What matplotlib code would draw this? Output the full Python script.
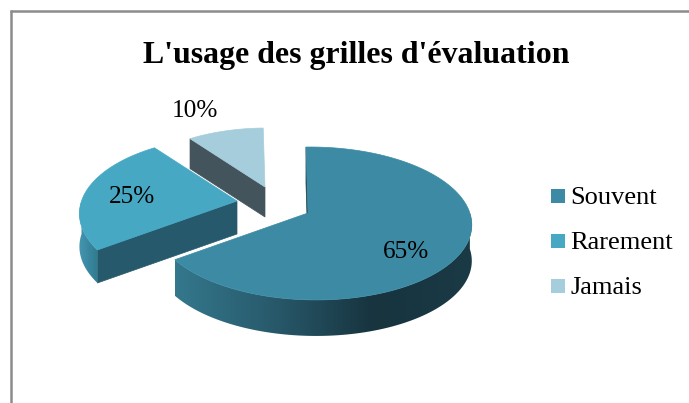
#Camembert 3D "éclaté" dessiné à la main (matplotlib n'a pas de pie 3D)
import numpy as np
import matplotlib
matplotlib.use('Agg')
import matplotlib.pyplot as plt
from matplotlib.colors import LinearSegmentedColormap
from matplotlib.patches import Polygon, Rectangle

#Données
categories = ['Souvent', 'Rarement', 'Jamais']
valeurs = [65, 25, 10]
etiquettes = ['65%', '25%', '10%']
titre = "L'usage des grilles d'évaluation"

#Style de chaque part
couleurs = ['#3c8aa3', '#47a8c4', '#a6cddc']
couleurs_mur = ['#1d4452', '#25596b', '#44545c']
degrades = [['#34788d', '#28596b', '#17343f', '#1a3a45'], ['#4596b0', '#2f7a90'], ['#8fb4c2', '#8fb4c2']]
sommets = [(308, 213), (237, 201), (265, 187)]
rayons = [1.0, 1.02, 0.92]
epaisseurs = [36, 33, 30]
perspectives = [0.137, 0.18, 0.17]
pos_etiquettes = [(406, 252), (132, 197), (195, 111)]

#Forme de l'ellipse
A, B, S, M = 157, 75, -2.3, -0.03

plt.rcParams['font.family'] = ['Liberation Serif', 'DejaVu Serif']

fig = plt.figure(figsize=(6.89, 4.03), dpi=100)
ax = fig.add_axes([0, 0, 1, 1])


def projeter(angle, sommet, rayon, k):
    #angle en degrés, 0 = haut, sens horaire
    t = np.radians(angle)
    u, v = np.sin(t), np.cos(t)
    d = 1 + k * v + M * u
    return sommet[0] + rayon * (A * u + S * v) / d, sommet[1] - B * rayon * v / d


#Angles cumulés à partir des valeurs
fins = np.cumsum(valeurs) / np.sum(valeurs) * 360
debuts = np.concatenate([[0], fins[:-1]])

for i in range(len(valeurs)):
    z = 2 + i * 0.1
    sommet, rayon, ep, k = sommets[i], rayons[i], epaisseurs[i], perspectives[i]
    theta = np.linspace(debuts[i], fins[i], 120)
    xs, ys = projeter(theta, sommet, rayon, k)

    #mur intérieur (premier bord de la part)
    x0, y0 = projeter(debuts[i], sommet, rayon, k)
    mur = [(sommet[0], sommet[1]), (x0, y0), (x0, y0 + ep), (sommet[0], sommet[1] + ep)]
    ax.add_patch(Polygon(mur, closed=True, fc=couleurs_mur[i], ec=couleurs_mur[i], lw=0.5, zorder=z))

    #bord extérieur visible (moitié avant) avec dégradé
    a1, a2 = max(debuts[i], 90), min(fins[i], 270)
    if a2 > a1:
        t2 = np.linspace(a1, a2, 120)
        xb, yb = projeter(t2, sommet, rayon, k)
        pts = np.column_stack([np.r_[xb, xb[::-1]], np.r_[yb, yb[::-1] + ep]])
        cmap = LinearSegmentedColormap.from_list('d', degrades[i])
        im = ax.imshow(np.linspace(0, 1, 256)[None, :], cmap=cmap, aspect='auto', zorder=z,
                       extent=[xb.min(), xb.max(), pts[:, 1].max(), pts[:, 1].min()])
        im.set_clip_path(Polygon(pts, closed=True, transform=ax.transData))

    #dessus de la part
    dessus = np.column_stack([np.r_[sommet[0], xs], np.r_[sommet[1], ys]])
    ax.add_patch(Polygon(dessus, closed=True, fc=couleurs[i], ec=couleurs[i], lw=0.5, zorder=z + 0.05))

    ax.text(pos_etiquettes[i][0], pos_etiquettes[i][1], etiquettes[i], fontsize=18.2, color='black',
            ha='center', va='center', zorder=5)

#Titre
ax.text(356, 55.5, titre, fontsize=22.95, fontweight='bold', color='black', ha='center', va='center')

#Légende
y_legende = [198, 243, 288]
for nom, coul, y in zip(categories, couleurs, y_legende):
    ax.add_patch(Rectangle((551, y - 9), 14, 14, fc=coul, ec='none'))
    ax.text(570.5, y, nom, fontsize=19, color='black', ha='left', va='center')

#Cadre gris (haut et gauche seulement)
ax.plot([11, 11], [10, 403], color='#8c8c8c', lw=1.8, solid_capstyle='butt', zorder=6)
ax.plot([10, 689], [11, 11], color='#8c8c8c', lw=1.8, solid_capstyle='butt', zorder=6)

ax.set_xlim(0, 689)
ax.set_ylim(403, 0)
ax.axis('off')

fig.savefig('out.png', dpi=100)
